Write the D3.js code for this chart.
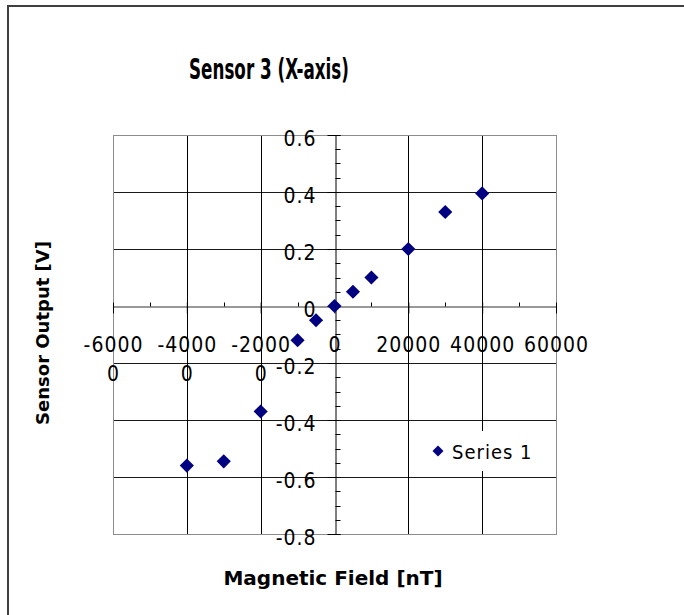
<!DOCTYPE html>
<html>
<head>
<meta charset="utf-8">
<script src="https://cdn.jsdelivr.net/npm/d3@7"></script>
<style>
  html, body { margin: 0; padding: 0; background: #fff; }
  svg { display: block; }
  text { fill: #000; }
  .tick-label, .legend-label, .chart-title { font-family: "DejaVu Sans Condensed", "DejaVu Sans", sans-serif; }
  .axis-title { font-family: "DejaVu Sans", Verdana, sans-serif; font-weight: bold; }
</style>
</head>
<body>
<svg id="chart" width="684" height="615"></svg>
<script>
// Sensor 3 response along the X axis
const fieldNT = [-40000, -30000, -20000, -10000, -5000, 0, 5000, 10000, 20000, 30000, 40000];
const outputV = [-0.56, -0.545, -0.37, -0.12, -0.05, 0, 0.05, 0.1, 0.2, 0.33, 0.395];

const xTickValues = [-60000, -40000, -20000, 0, 20000, 40000, 60000];
const xTickLabels = ["-60000", "-40000", "-20000", "0", "20000", "40000", "60000"];
const xMinorValues = [-50000, -30000, -10000, 10000, 30000, 50000];
const yTickValues = [0.6, 0.4, 0.2, 0, -0.2, -0.4, -0.6, -0.8];
const yTickLabels = ["0.6", "0.4", "0.2", "0", "-0.2", "-0.4", "-0.6", "-0.8"];
const yMinorValues = d3.range(-16, 13).map(i => i * 0.05);

const chartTitle = "Sensor 3 (X-axis)";
const xTitle = "Magnetic Field [nT]";
const yTitle = "Sensor Output [V]";
const seriesName = "Series 1";

const svg = d3.select("#chart");
const plot = { left: 113, right: 556, top: 135, bottom: 534 };

const x = d3.scaleLinear().domain([-60000, 60000]).range([plot.left, plot.right]);
const y = d3.scaleLinear().domain([-0.8, 0.6]).range([plot.bottom, plot.top]);

// outer frame (left and top edges)
svg.append("path")
  .attr("d", "M8,615 L8,6 L684,6")
  .attr("fill", "none").attr("stroke", "#404040").attr("stroke-width", 2);

// gridlines
const grid = svg.append("g");
grid.selectAll("line.h").data(yTickValues.filter(v => v !== 0 && v !== 0.6 && v !== -0.8))
  .join("line")
  .attr("x1", plot.left).attr("x2", plot.right)
  .attr("y1", d => Math.round(y(d)) + 0.5).attr("y2", d => Math.round(y(d)) + 0.5)
  .attr("stroke", "#1a1a1a");
grid.selectAll("line.v").data(xTickValues.filter(v => v !== 0 && Math.abs(v) !== 60000))
  .join("line")
  .attr("x1", d => Math.round(x(d)) + 0.5).attr("x2", d => Math.round(x(d)) + 0.5)
  .attr("y1", plot.top).attr("y2", plot.bottom)
  .attr("stroke", "#000");

// plot border
svg.append("rect")
  .attr("x", plot.left + 0.5).attr("y", plot.top + 0.5)
  .attr("width", plot.right - plot.left).attr("height", plot.bottom - plot.top)
  .attr("fill", "none").attr("stroke", "#8c8c8c");

const tickFont = 21;

// x axis through y = 0
const y0 = Math.round(y(0)) + 0.5;
const xAxis = d3.axisBottom(x)
  .tickValues(xTickValues)
  .tickSizeOuter(0)
  .tickFormat((d, i) => xTickLabels[i]);
const gx = svg.append("g").attr("transform", `translate(0,${y0})`).call(xAxis);
gx.attr("font-family", null).attr("font-size", null);
gx.select(".domain").attr("stroke", "#333");
gx.selectAll(".tick line").attr("y1", -4).attr("y2", 7).attr("stroke", "#000");
gx.selectAll(".tick text").each(function (d, i) {
  const label = xTickLabels[i];
  const t = d3.select(this).text(null)
    .attr("class", "tick-label")
    .attr("y", 0).attr("dy", null)
    .attr("font-size", tickFont).attr("letter-spacing", 1)
    .attr("fill", "#000");
  const lines = label.length > 5 ? [label.slice(0, 5), label.slice(5)] : [label];
  lines.forEach((s, k) => {
    t.append("tspan").attr("x", 0).attr("y", 45 + k * 29).text(s);
  });
});
gx.append("g").selectAll("line").data(xMinorValues).join("line")
  .attr("x1", d => Math.round(x(d)) + 0.5).attr("x2", d => Math.round(x(d)) + 0.5)
  .attr("y1", -4).attr("y2", 0).attr("stroke", "#000");

// y axis through x = 0
const x0 = Math.round(x(0)) + 0.5;
const yAxis = d3.axisLeft(y)
  .tickValues(yTickValues)
  .tickSizeOuter(0)
  .tickFormat((d, i) => yTickLabels[i]);
const gy = svg.append("g").attr("transform", `translate(${x0},0)`).call(yAxis);
gy.attr("font-family", null).attr("font-size", null);
gy.select(".domain").attr("stroke", "#000");
gy.selectAll(".tick line").attr("x1", -8).attr("x2", 5).attr("stroke", "#000");
gy.selectAll(".tick text")
  .attr("class", "tick-label")
  .attr("x", -19).attr("dy", null).attr("y", 10)
  .attr("font-size", tickFont).attr("letter-spacing", 1).attr("fill", "#000");
gy.append("g").selectAll("line").data(yMinorValues).join("line")
  .attr("x1", 0).attr("x2", 5)
  .attr("y1", d => Math.round(y(d)) + 0.5).attr("y2", d => Math.round(y(d)) + 0.5)
  .attr("stroke", "#000");

// data markers
const diamond = d3.symbol().type(d3.symbolSquare).size(100);
svg.append("g").selectAll("path").data(fieldNT.map((f, i) => [f, outputV[i]]))
  .join("path")
  .attr("d", diamond)
  .attr("transform", d => `translate(${x(d[0])},${y(d[1])}) rotate(45)`)
  .attr("fill", "#000080");

// legend
const legend = svg.append("g");
legend.append("rect").attr("x", 425).attr("y", 431).attr("width", 106).attr("height", 40).attr("fill", "#fff");
legend.append("path")
  .attr("d", d3.symbol().type(d3.symbolSquare).size(60))
  .attr("transform", "translate(438,451) rotate(45)")
  .attr("fill", "#000080");
legend.append("text").attr("class", "legend-label")
  .attr("x", 452).attr("y", 459).attr("font-size", 20).attr("letter-spacing", 1)
  .text(seriesName);

// titles
svg.append("text").attr("class", "chart-title")
  .attr("x", 269).attr("y", 79).attr("text-anchor", "middle")
  .attr("font-size", 28).attr("font-weight", "bold")
  .attr("textLength", 160).attr("lengthAdjust", "spacingAndGlyphs")
  .text(chartTitle);

svg.append("text").attr("class", "axis-title")
  .attr("x", 333).attr("y", 585).attr("text-anchor", "middle")
  .attr("font-size", 20)
  .text(xTitle);

svg.append("text").attr("class", "axis-title")
  .attr("transform", "translate(49,333) rotate(-90)")
  .attr("text-anchor", "middle")
  .attr("font-size", 18)
  .text(yTitle);
</script>
</body>
</html>
